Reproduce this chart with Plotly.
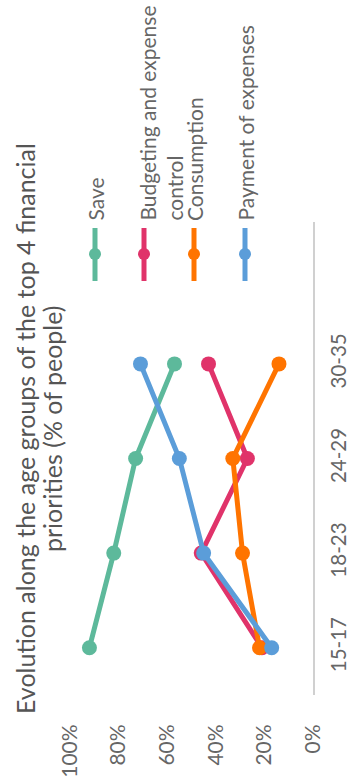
import plotly.graph_objects as go

# Age groups and the share of people (%) naming each financial priority
age_groups = ["15-17", "18-23", "24-29", "30-35"]
save = [92, 82, 73, 57]
budgeting = [21, 46, 27, 43]
consumption = [22, 29, 33, 14]
payment = [17, 45, 55, 71]

series_names = ["Save", "Budgeting and expense<br>control", "Consumption", "Payment of expenses"]
series_values = [save, budgeting, consumption, payment]
colors = ["#5db99b", "#e0336a", "#ff7400", "#5b9dd9"]

value_ticks = [0, 20, 40, 60, 80, 100]
title_lines = ["Evolution along the age groups of the top 4 financial",
               "priorities (% of people)"]

W, H = 351, 778
L, R, T, B = 70, 38, 222, 83
FONT = "Lato"
GREY = "#666666"

fig = go.Figure()
for name, vals, col in zip(series_names, series_values, colors):
    fig.add_trace(go.Scatter(
        x=vals, y=age_groups, mode="lines+markers", name=name.replace("<br>", " "),
        line=dict(color=col, width=5),
        marker=dict(color=col, size=15),
        showlegend=False,
    ))

fig.update_layout(
    width=W, height=H,
    margin=dict(l=L, r=R, t=T, b=B, pad=0),
    paper_bgcolor="white", plot_bgcolor="white",
    font=dict(family=FONT, color=GREY, size=21),
    xaxis=dict(
        range=[100, 0], tickvals=value_ticks,
        ticktext=[f"{v}%" for v in value_ticks],
        tickangle=-90, showgrid=False, zeroline=False, showline=False,
        ticks="outside", ticklen=20, tickcolor="rgba(0,0,0,0)",
        tickfont=dict(size=21, color=GREY), automargin=False,
    ),
    yaxis=dict(
        type="category", categoryorder="array", categoryarray=age_groups,
        range=[-0.5, 4.5], side="right", tickangle=-90,
        showgrid=False, zeroline=False,
        showline=True, linecolor="#d0d0d0", linewidth=2,
        ticks="outside", ticklen=6, tickcolor="rgba(0,0,0,0)",
        tickfont=dict(size=20.5, color=GREY), automargin=False,
    ),
)

pw, ph = W - L - R, H - T - B

def px_x(p):
    return (p - L) / pw

def px_y(p):
    return (H - B - p) / ph

# Title, rotated along the left edge, one annotation per line
for line_text, cx in zip(title_lines, [25, 52]):
    fig.add_annotation(
        text=line_text, xref="paper", yref="paper", x=px_x(cx), y=px_y(429),
        xanchor="center", yanchor="middle", textangle=-90, showarrow=False,
        font=dict(size=25, color="#555555", family=FONT),
    )

# Rotated legend: a short line with a dot, then the label
legend_x = [95, 144, 194, 245]
for name, col, lx in zip(series_names, colors, legend_x):
    xp = px_x(lx)
    fig.add_shape(type="line", xref="paper", yref="paper",
                  x0=xp, x1=xp, y0=px_y(228), y1=px_y(281),
                  line=dict(color=col, width=5))
    fig.add_shape(type="circle", xref="paper", yref="paper",
                  xsizemode="pixel", ysizemode="pixel",
                  xanchor=xp, yanchor=px_y(254),
                  x0=-6, x1=6, y0=-6, y1=6,
                  fillcolor=col, line=dict(width=0))
    two_lines = "<br>" in name
    fig.add_annotation(
        text=name, xref="paper", yref="paper",
        x=px_x(lx - 12) if two_lines else xp, y=px_y(223),
        xanchor="left" if two_lines else "center", yanchor="bottom",
        textangle=-90, showarrow=False, align="left",
        font=dict(size=21, color=GREY, family=FONT),
    )

fig.write_html("out.html")
